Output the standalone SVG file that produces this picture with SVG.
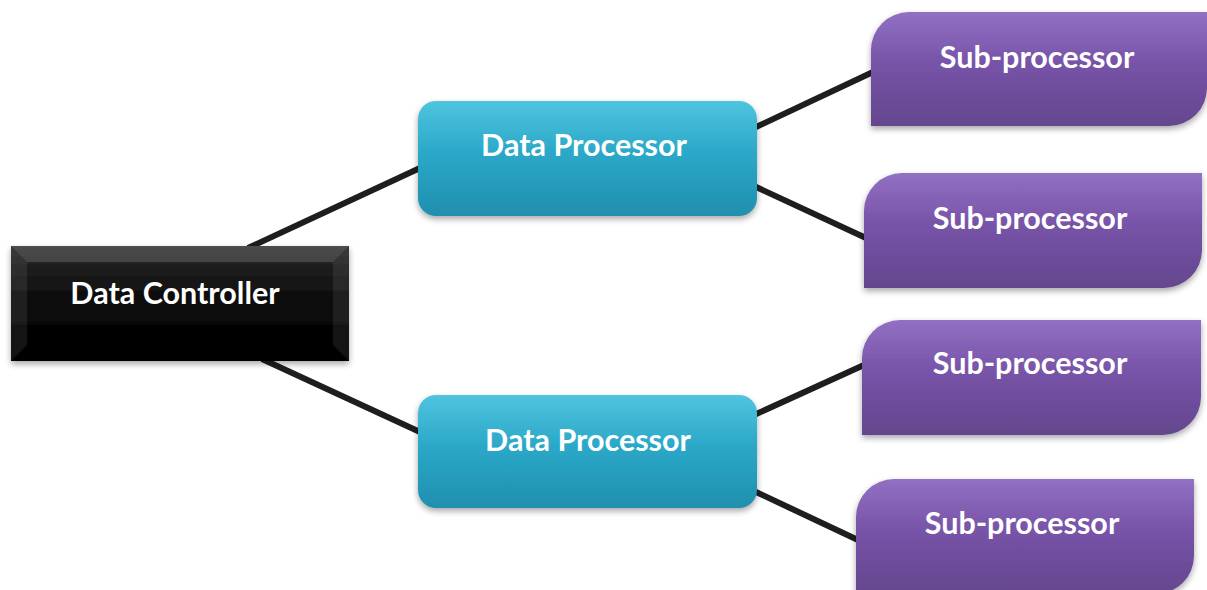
<svg xmlns="http://www.w3.org/2000/svg" width="1207" height="590" viewBox="0 0 1207 590">
<defs>
<linearGradient id="gBlack" x1="0" y1="0" x2="0" y2="1">
<stop offset="0" stop-color="#2a2a2a"/><stop offset="0.5" stop-color="#0a0a0a"/><stop offset="1" stop-color="#000"/>
</linearGradient>
<linearGradient id="gBlue" x1="0" y1="0" x2="0" y2="1">
<stop offset="0" stop-color="#4fc4df"/><stop offset="0.45" stop-color="#2ba8c8"/><stop offset="1" stop-color="#208fae"/>
</linearGradient>
<linearGradient id="gPurple" x1="0" y1="0" x2="0" y2="1">
<stop offset="0" stop-color="#9170c2"/><stop offset="0.45" stop-color="#7753a8"/><stop offset="1" stop-color="#64468e"/>
</linearGradient>
<filter id="sh" x="-10%" y="-10%" width="120%" height="130%">
<feDropShadow dx="0" dy="3" stdDeviation="3" flood-color="#000" flood-opacity="0.35"/>
</filter>
</defs>
<style>
.conn{stroke:#1e1e1e;stroke-width:6;fill:none;stroke-linecap:butt}
.lbl{font-family:Lato,"Open Sans","Liberation Sans",sans-serif;font-weight:bold;font-size:30.5px;fill:#fff;text-anchor:middle}
.bev{fill:#fff}
</style>
<rect width="1207" height="590" fill="#fff"/>
<g id="connectors">
<line class="conn" x1="248" y1="248" x2="420" y2="168"/>
<line class="conn" x1="262" y1="359" x2="420" y2="432"/>
<line class="conn" x1="754" y1="128" x2="873" y2="72"/>
<line class="conn" x1="754" y1="186" x2="866" y2="238"/>
<line class="conn" x1="754" y1="415" x2="864" y2="365"/>
<line class="conn" x1="754" y1="491" x2="858" y2="540"/>
</g>
<g id="data-controller">
<rect x="11" y="246" width="338" height="115" fill="url(#gBlack)" filter="url(#sh)"/>
<polygon class="bev" points="11,246 349,246 333,262 27,262" opacity="0.16"/>
<polygon class="bev" points="11,246 27,262 27,345 11,361" opacity="0.08"/>
<polygon class="bev" points="349,246 333,262 333,345 349,361" opacity="0.08"/>
<text class="lbl" x="175" y="304">Data Controller</text>
</g>
<g id="data-processor-1">
<rect x="418" y="101" width="339" height="115" rx="18" fill="url(#gBlue)" filter="url(#sh)"/>
<text class="lbl" x="584" y="156">Data Processor</text>
</g>
<g id="data-processor-2">
<rect x="418" y="395" width="339" height="113" rx="18" fill="url(#gBlue)" filter="url(#sh)"/>
<text class="lbl" x="588" y="451">Data Processor</text>
</g>
<g id="sub-processor-1">
<path d="M871,126 V50 A38,38 0 0 1 909,12 H1207 V88 A38,38 0 0 1 1169,126 Z" fill="url(#gPurple)" filter="url(#sh)"/>
<text class="lbl" x="1037" y="68">Sub-processor</text>
</g>
<g id="sub-processor-2">
<path d="M864,288 V211 A38,38 0 0 1 902,173 H1202 V250 A38,38 0 0 1 1164,288 Z" fill="url(#gPurple)" filter="url(#sh)"/>
<text class="lbl" x="1030" y="229">Sub-processor</text>
</g>
<g id="sub-processor-3">
<path d="M862,435 V358 A38,38 0 0 1 900,320 H1201 V397 A38,38 0 0 1 1163,435 Z" fill="url(#gPurple)" filter="url(#sh)"/>
<text class="lbl" x="1030" y="374">Sub-processor</text>
</g>
<g id="sub-processor-4">
<path d="M856,594 V517 A38,38 0 0 1 894,479 H1194 V556 A38,38 0 0 1 1156,594 Z" fill="url(#gPurple)" filter="url(#sh)"/>
<text class="lbl" x="1022" y="534">Sub-processor</text>
</g>
</svg>
